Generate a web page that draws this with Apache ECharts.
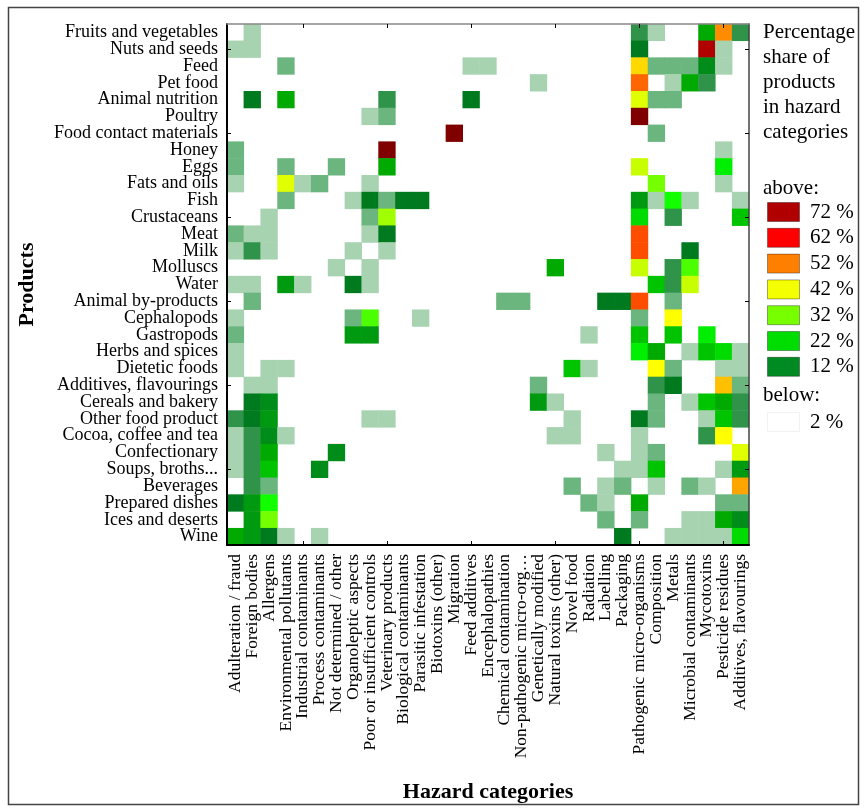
<!DOCTYPE html>
<html>
<head>
<meta charset="utf-8">
<script src="https://cdn.jsdelivr.net/npm/echarts@6/dist/echarts.min.js"></script>
<style>
html,body{margin:0;padding:0;background:#fff;}
#chart{width:866px;height:810px;}
</style>
</head>
<body>
<div id="chart"></div>
<script>
// ---- categories ----
const hazards = [
  'Adulteration / fraud','Foreign bodies','Allergens','Environmental pollutants',
  'Industrial contaminants','Process contaminants','Not determined / other','Organoleptic aspects',
  'Poor or insufficient controls','Veterinary products','Biological contaminants','Parasitic infestation',
  'Biotoxins (other)','Migration','Feed additives','Encephalopathies','Chemical contamination',
  'Non-pathogenic micro-org…','Genetically modified','Natural toxins (other)','Novel food',
  'Radiation','Labelling','Packaging','Pathogenic micro-organisms','Composition','Metals',
  'Microbial contaminants','Mycotoxins','Pesticide residues','Additives, flavourings'
];
const products = [
  'Fruits and vegetables','Nuts and seeds','Feed','Pet food','Animal nutrition','Poultry',
  'Food contact materials','Honey','Eggs','Fats and oils','Fish','Crustaceans','Meat','Milk',
  'Molluscs','Water','Animal by-products','Cephalopods','Gastropods','Herbs and spices',
  'Dietetic foods','Additives, flavourings','Cereals and bakery','Other food product',
  'Cocoa, coffee and tea','Confectionary','Soups, broths...','Beverages','Prepared dishes',
  'Ices and deserts','Wine'
];

// ---- percentage share per product (one value per hazard category, 0 = below 2 %) ----
const fruitsAndVegetables = [0,3,0,0,0,0,0,0,0,0, 0,0,0,0,0,0,0,0,0,0, 0,0,0,0,9,3,0,0,19,53, 9];
const nutsAndSeeds        = [3,3,0,0,0,0,0,0,0,0, 0,0,0,0,0,0,0,0,0,0, 0,0,0,0,12,0,0,0,68,3, 0];
const feed                = [0,0,0,6,0,0,0,0,0,0, 0,0,0,0,3,3,0,0,0,0, 0,0,0,0,46,6,6,6,15,3, 0];
const petFood             = [0,0,0,0,0,0,0,0,0,0, 0,0,0,0,0,0,0,0,3,0, 0,0,0,0,56,0,3,19,9,0, 0];
const animalNutrition     = [0,12,0,19,0,0,0,0,0,9, 0,0,0,0,12,0,0,0,0,0, 0,0,0,0,41,6,6,0,0,0, 0];
const poultry             = [0,0,0,0,0,0,0,0,3,6, 0,0,0,0,0,0,0,0,0,0, 0,0,0,0,75,0,0,0,0,0, 0];
const foodContact         = [0,0,0,0,0,0,0,0,0,0, 0,0,0,75,0,0,0,0,0,0, 0,0,0,0,0,6,0,0,0,0, 0];
const honey               = [6,0,0,0,0,0,0,0,0,75, 0,0,0,0,0,0,0,0,0,0, 0,0,0,0,0,0,0,0,0,3, 0];
const eggs                = [6,0,0,6,0,0,6,0,0,19, 0,0,0,0,0,0,0,0,0,0, 0,0,0,0,38,0,0,0,0,25, 0];
const fatsAndOils         = [3,0,0,41,3,6,0,0,3,0, 0,0,0,0,0,0,0,0,0,0, 0,0,0,0,0,33,0,0,0,3, 0];
const fish                = [0,0,0,6,0,0,0,3,12,6, 12,12,0,0,0,0,0,0,0,0, 0,0,0,0,17,3,27,3,0,0, 3];
const crustaceans         = [0,0,3,0,0,0,0,0,6,35, 0,0,0,0,0,0,0,0,0,0, 0,0,0,0,23,0,9,0,0,0, 21];
const meat                = [6,3,3,0,0,0,0,0,3,12, 0,0,0,0,0,0,0,0,0,0, 0,0,0,0,58,0,0,0,0,0, 0];
const milk                = [3,9,3,0,0,0,0,3,0,3, 0,0,0,0,0,0,0,0,0,0, 0,0,0,0,58,0,0,12,0,0, 0];
const molluscs            = [0,0,0,0,0,0,3,0,3,0, 0,0,0,0,0,0,0,0,0,19, 0,0,0,0,38,0,9,30,0,0, 0];
const water               = [3,3,0,17,3,0,0,12,3,0, 0,0,0,0,0,0,0,0,0,0, 0,0,0,0,0,21,9,38,0,0, 0];
const animalByProducts    = [0,6,0,0,0,0,0,0,0,0, 0,0,0,0,0,0,6,6,0,0, 0,0,12,12,58,0,6,0,0,0, 0];
const cephalopods         = [3,0,0,0,0,0,0,6,30,0, 0,3,0,0,0,0,0,0,0,0, 0,0,0,0,6,0,43,0,0,0, 0];
const gastropods          = [6,0,0,0,0,0,0,17,17,0, 0,0,0,0,0,0,0,0,0,0, 0,3,0,0,21,0,21,0,26,0, 0];
const herbsAndSpices      = [3,0,0,0,0,0,0,0,0,0, 0,0,0,0,0,0,0,0,0,0, 0,0,0,0,26,19,0,3,21,23, 3];
const dieteticFoods       = [3,0,3,3,0,0,0,0,0,0, 0,0,0,0,0,0,0,0,0,0, 21,3,0,0,0,43,6,0,0,3, 3];
const additivesFlav       = [0,3,3,0,0,0,0,0,0,0, 0,0,0,0,0,0,0,0,6,0, 0,0,0,0,0,9,12,0,0,48, 6];
const cerealsAndBakery    = [0,12,15,0,0,0,0,0,0,0, 0,0,0,0,0,0,0,0,17,3, 0,0,0,0,0,6,0,3,21,19, 9];
const otherFoodProduct    = [9,12,17,0,0,0,0,0,3,3, 0,0,0,0,0,0,0,0,0,0, 3,0,0,0,12,6,0,0,3,21, 9];
const cocoaCoffeeTea      = [3,9,15,3,0,0,0,0,0,0, 0,0,0,0,0,0,0,0,0,3, 3,0,0,0,3,0,0,0,9,43, 0];
const confectionary       = [3,9,19,0,0,0,15,0,0,0, 0,0,0,0,0,0,0,0,0,0, 0,0,3,0,3,6,0,0,0,0, 40];
const soupsBroths         = [3,9,21,0,0,15,0,0,0,0, 0,0,0,0,0,0,0,0,0,0, 0,0,0,3,3,21,0,0,0,3, 17];
const beverages           = [0,9,6,0,0,0,0,0,0,0, 0,0,0,0,0,0,0,0,0,0, 6,0,3,6,0,3,0,6,3,0, 50];
const preparedDishes      = [12,17,28,0,0,0,0,0,0,0, 0,0,0,0,0,0,0,0,0,0, 0,6,3,0,19,0,0,0,0,6, 6];
const icesAndDeserts      = [0,17,33,0,0,0,0,0,0,0, 0,0,0,0,0,0,0,0,0,0, 0,0,6,0,6,0,0,3,3,19, 15];
const wine                = [19,17,12,3,0,3,0,0,0,0, 0,0,0,0,0,0,0,0,0,0, 0,0,0,12,0,0,3,3,3,3, 23];

// legend thresholds
const legendLabels = ['72 %','62 %','52 %','42 %','32 %','22 %','12 %'];
const legendColors = ['#b00000','#ff0000','#ff8000','#f4ff00','#77ff00','#00dd00','#008a22'];

const rows = [fruitsAndVegetables,nutsAndSeeds,feed,petFood,animalNutrition,poultry,foodContact,
  honey,eggs,fatsAndOils,fish,crustaceans,meat,milk,molluscs,water,animalByProducts,cephalopods,
  gastropods,herbsAndSpices,dieteticFoods,additivesFlav,cerealsAndBakery,otherFoodProduct,
  cocoaCoffeeTea,confectionary,soupsBroths,beverages,preparedDishes,icesAndDeserts,wine];

const data = [];
rows.forEach((row, r) => row.forEach((v, c) => { if (v > 0) data.push([c, r, v]); }));

const FONT = 'Liberation Serif';
const chart = echarts.init(document.getElementById('chart'));

const legendGraphics = [];
legendGraphics.push({type:'text', left:763, top:20, z:100,
  style:{text:'Percentage\nshare of\nproducts\nin hazard\ncategories', font:'21px "Liberation Serif"', fill:'#000', lineHeight:25}});
legendGraphics.push({type:'text', x:763, y:188, z:100,
  style:{text:'above:', font:'21px "Liberation Serif"', fill:'#000', verticalAlign:'middle'}});
legendLabels.forEach((lab, i) => {
  const top = 202 + i * 25.8;
  legendGraphics.push({type:'rect', z:100, shape:{x:767.5, y:top + 0.5, width:32, height:19},
    style:{fill:legendColors[i], stroke:'rgba(0,0,0,0.35)', lineWidth:1}});
  legendGraphics.push({type:'text', x:810, y:top + 10, z:100,
    style:{text:lab, font:'21px "Liberation Serif"', fill:'#000', verticalAlign:'middle'}});
});
legendGraphics.push({type:'text', x:763, y:395, z:100,
  style:{text:'below:', font:'21px "Liberation Serif"', fill:'#000', verticalAlign:'middle'}});
legendGraphics.push({type:'rect', z:100, shape:{x:767.5, y:412.5, width:32, height:19},
  style:{fill:'#fff', stroke:'#f2f2f2', lineWidth:1}});
legendGraphics.push({type:'text', x:810, y:422, z:100,
  style:{text:'2 %', font:'21px "Liberation Serif"', fill:'#000', verticalAlign:'middle'}});
legendGraphics.push({type:'rect', z:100, shape:{x:8.5, y:7.5, width:850, height:797},
  style:{fill:'none', stroke:'#444', lineWidth:1.5}});

const tickX = {show:true, inside:true, alignWithLabel:true, length:4,
  interval:(i) => i % 5 === 4, lineStyle:{color:'#000', width:1}};
const tickY = {show:true, inside:true, alignWithLabel:true, length:4,
  interval:(i) => i % 5 === 1, lineStyle:{color:'#000', width:1}};

chart.setOption({
  animation:false,
  backgroundColor:'#fff',
  textStyle:{fontFamily:FONT},
  grid:{left:227, top:24, width:522, height:521, containLabel:false},
  xAxis:[{
    type:'category', data:hazards, position:'bottom', z:10,
    axisLine:{lineStyle:{color:'#000', width:2}},
    axisTick:tickX,
    axisLabel:{interval:0, rotate:90, fontSize:17.5, color:'#000', margin:9, fontFamily:FONT},
    splitLine:{show:false},
    name:'Hazard categories', nameLocation:'middle', nameGap:236,
    nameTextStyle:{fontWeight:'bold', fontSize:22, color:'#000', fontFamily:FONT}
  },{
    type:'category', data:hazards, position:'top', z:10,
    axisLine:{lineStyle:{color:'#888', width:1.5}},
    axisTick:tickX, axisLabel:{show:false}, splitLine:{show:false}
  }],
  yAxis:[{
    type:'category', data:products, inverse:true, position:'left', z:10,
    axisLine:{lineStyle:{color:'#000', width:2}},
    axisTick:tickY,
    axisLabel:{interval:0, fontSize:18, color:'#000', margin:9, fontFamily:FONT},
    splitLine:{show:false},
    name:'Products', nameLocation:'middle', nameRotate:90, nameGap:189,
    nameTextStyle:{fontWeight:'bold', fontSize:22, color:'#000', fontFamily:FONT}
  },{
    type:'category', data:products, inverse:true, position:'right', z:10,
    axisLine:{lineStyle:{color:'#444', width:1.5}},
    axisTick:tickY, axisLabel:{show:false}, splitLine:{show:false}
  }],
  visualMap:{
    type:'piecewise', show:false, dimension:2, seriesIndex:0,
    pieces:[
      {lt:2, color:'#ffffff'},
      {gte:2, lt:5, color:'#a7d3b1'},
      {gte:5, lt:8, color:'#6bb57f'},
      {gte:8, lt:11, color:'#2f9449'},
      {gte:11, lt:14, color:'#007a1f'},
      {gte:14, lt:16, color:'#008c18'},
      {gte:16, lt:18, color:'#009a10'},
      {gte:18, lt:20, color:'#00aa00'},
      {gte:20, lt:22, color:'#00c400'},
      {gte:22, lt:24, color:'#00dc00'},
      {gte:24, lt:27, color:'#00ee00'},
      {gte:27, lt:29, color:'#12ff00'},
      {gte:29, lt:31, color:'#4cff00'},
      {gte:31, lt:34, color:'#76ff00'},
      {gte:34, lt:37, color:'#a0ff00'},
      {gte:37, lt:40, color:'#c8ff00'},
      {gte:40, lt:42, color:'#e0ff00'},
      {gte:42, lt:44, color:'#ffff00'},
      {gte:44, lt:48, color:'#ffd800'},
      {gte:48, lt:50, color:'#ffc000'},
      {gte:50, lt:51, color:'#ffa500'},
      {gte:51, lt:55, color:'#ff8c00'},
      {gte:55, lt:57, color:'#ff6600'},
      {gte:57, lt:60, color:'#ff4d00'},
      {gte:60, lt:65, color:'#ff0000'},
      {gte:65, lt:71, color:'#b00000'},
      {gte:71, color:'#800000'}
    ]
  },
  series:[{
    type:'heatmap', data:data, xAxisIndex:0, yAxisIndex:0,
    itemStyle:{borderWidth:0},
    emphasis:{disabled:true}, label:{show:false}
  }],
  graphic:legendGraphics
});
</script>
</body>
</html>
